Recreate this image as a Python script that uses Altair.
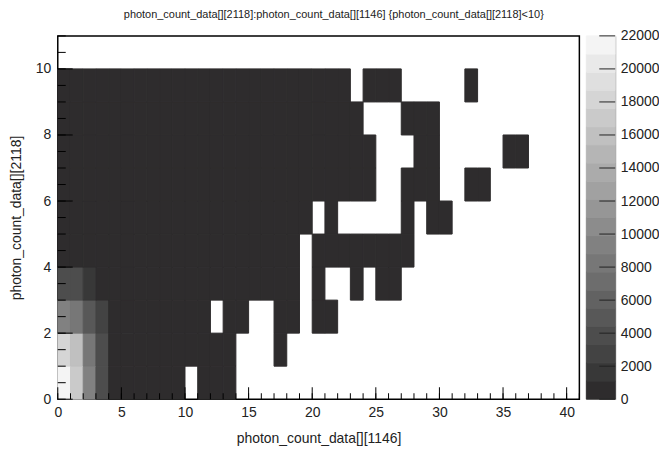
import altair as alt
import pandas as pd

# ---------------- data (bin contents, one list per y bin, x bins 0..40) ----------------
counts_y0 = [21950, 17300, 8900, 3500, 900, 610, 400, 250, 140, 75, 0, 28, 12, 5]
counts_y1 = [18200, 15800, 8700, 3400, 880, 590, 390, 245, 150, 85, 48, 26, 13, 6, 0, 0, 0, 1]
counts_y2 = [8900, 8700, 4800, 2500, 760, 520, 350, 220, 130, 70, 38, 20, 0, 8, 4, 0, 0, 1, 2, 0, 1, 1]
counts_y3 = [3600, 3500, 1600, 1050, 620, 430, 290, 180, 110, 62, 35, 19, 10, 6, 4, 3, 2, 2, 1, 0, 1, 0, 0, 1, 0, 1, 1]
counts_y4 = [1000, 980, 820, 640, 470, 330, 230, 150, 95, 55, 32, 18, 11, 7, 5, 3, 2, 2, 1, 0, 2, 1, 1, 1, 1, 1, 1, 1]
counts_y5 = [760, 740, 620, 500, 370, 270, 190, 125, 80, 48, 29, 17, 10, 7, 5, 3, 2, 2, 1, 1, 0, 1, 0, 0, 0, 0, 0, 1, 0, 1, 1]
counts_y6 = [560, 540, 460, 370, 280, 205, 145, 98, 64, 40, 25, 15, 9, 6, 4, 3, 2, 2, 1, 1, 1, 1, 1, 1, 1, 0, 0, 1, 1, 1, 0, 0, 1, 1]
counts_y7 = [400, 390, 330, 270, 205, 152, 108, 74, 49, 31, 20, 12, 8, 5, 4, 3, 2, 1, 1, 1, 1, 1, 1, 1, 1, 0, 0, 0, 1, 1, 0, 0, 0, 0, 0, 1, 1]
counts_y8 = [290, 280, 240, 196, 150, 112, 80, 55, 37, 24, 15, 10, 6, 4, 3, 2, 2, 1, 1, 1, 1, 1, 1, 1, 0, 0, 0, 1, 1, 1]
counts_y9 = [210, 204, 175, 143, 110, 82, 59, 41, 28, 18, 12, 8, 5, 4, 3, 2, 2, 1, 1, 1, 1, 1, 1, 0, 1, 1, 1, 0, 0, 0, 0, 0, 1]

rows = [counts_y0, counts_y1, counts_y2, counts_y3, counts_y4,
        counts_y5, counts_y6, counts_y7, counts_y8, counts_y9]

# colour palette (20 contour levels, 0 .. 22000)
z_levels = [0, 1100, 2200, 3300, 4400, 5500, 6600, 7700, 8800, 9900, 11000,
            12100, 13200, 14300, 15400, 16500, 17600, 18700, 19800, 20900, 22000]
greys = ["#2e2c2d", "#383838", "#434343", "#4d4d4d", "#585858", "#626262", "#6d6d6d",
         "#777777", "#818181", "#8c8c8c", "#969696", "#a1a1a1", "#ababab", "#b5b5b5",
         "#c0c0c0", "#cacaca", "#d5d5d5", "#dfdfdf", "#e9e9e9", "#f4f4f4"]

x_major = [0, 5, 10, 15, 20, 25, 30, 35, 40]
x_minor = list(range(0, 42))
y_major = [0, 2, 4, 6, 8, 10]
y_minor = [v / 2 for v in range(0, 23)]
z_ticks = [0, 2000, 4000, 6000, 8000, 10000, 12000, 14000, 16000, 18000, 20000, 22000]

title_text = "photon_count_data[][2118]:photon_count_data[][1146] {photon_count_data[][2118]<10}"
x_title = "photon_count_data[][1146]"
y_title = "photon_count_data[][2118]"

# ---------------- tables ----------------
recs = []
for yb, row in enumerate(rows):
    for xb, c in enumerate(row):
        if c > 0:
            recs.append({"x0": xb, "x1": xb + 1, "y0": yb, "y1": yb + 1, "count": c})
cells = pd.DataFrame(recs)

bands = pd.DataFrame({"lo": z_levels[:-1], "hi": z_levels[1:]})
bands["mid"] = (bands["lo"] + bands["hi"]) / 2

FONT = "Liberation Sans"
W, H = 524, 365
BAR_W = 29

color_scale = alt.Scale(type="threshold", domain=z_levels[1:-1], range=greys)
xs = alt.Scale(domain=[0, 41], nice=False, zero=False)
ys = alt.Scale(domain=[0, 11], nice=False, zero=False)

x_axis = alt.Axis(
    values=x_major, ticks=False, domain=False, grid=False, labelFlush=False,
    labelFontSize=14, labelFont=FONT, labelColor="#222", labelPadding=6,
    title=x_title, titleFont=FONT, titleFontSize=14, titleFontWeight="normal",
    titleColor="#222", titlePadding=12)
y_axis = alt.Axis(
    values=y_major, ticks=False, domain=False, grid=False, labelFlush=False,
    labelFontSize=14, labelFont=FONT, labelColor="#222", labelPadding=7,
    title=y_title, titleFont=FONT, titleFontSize=14, titleFontWeight="normal",
    titleColor="#222", titlePadding=12)

heat = alt.Chart(cells).mark_rect(strokeWidth=1).encode(
    x=alt.X("x0:Q", scale=xs, axis=x_axis),
    x2="x1:Q",
    y=alt.Y("y0:Q", scale=ys, axis=y_axis),
    y2="y1:Q",
    color=alt.Color("count:Q", scale=color_scale, legend=None),
    stroke=alt.Stroke("count:Q", scale=color_scale, legend=None),
)

xmaj = alt.Chart(pd.DataFrame({"v": x_major})).mark_rule(color="black", strokeWidth=1).encode(
    x=alt.X("v:Q", scale=xs, axis=x_axis), y=alt.value(H), y2=alt.value(H - 12))
xmin = alt.Chart(pd.DataFrame({"v": x_minor})).mark_rule(color="black", strokeWidth=1).encode(
    x=alt.X("v:Q", scale=xs, axis=x_axis), y=alt.value(H), y2=alt.value(H - 6))
ymaj = alt.Chart(pd.DataFrame({"v": y_major})).mark_rule(color="black", strokeWidth=1).encode(
    y=alt.Y("v:Q", scale=ys, axis=y_axis), x=alt.value(0), x2=alt.value(15))
ymin = alt.Chart(pd.DataFrame({"v": y_minor})).mark_rule(color="black", strokeWidth=1).encode(
    y=alt.Y("v:Q", scale=ys, axis=y_axis), x=alt.value(0), x2=alt.value(8))

main = alt.layer(heat, xmin, xmaj, ymin, ymaj).properties(
    width=W, height=H,
    view=alt.ViewBackground(stroke="black", strokeWidth=1.5, fill="white"))

zs = alt.Scale(domain=[0, 22000], nice=False, zero=False)
z_axis = alt.Axis(
    orient="right", values=z_ticks, format="d", ticks=False, grid=False,
    domain=True, domainColor="#888", domainWidth=1,
    labelFontSize=14, labelFont=FONT, labelColor="#222", labelPadding=5,
    labelFlush=False, title="")
bar_rect = alt.Chart(bands).mark_rect(strokeWidth=1).encode(
    y=alt.Y("lo:Q", scale=zs, axis=z_axis),
    y2="hi:Q",
    x=alt.value(0), x2=alt.value(BAR_W),
    color=alt.Color("mid:Q", scale=color_scale, legend=None),
    stroke=alt.Stroke("mid:Q", scale=color_scale, legend=None),
)
bar_ticks = alt.Chart(pd.DataFrame({"v": z_ticks})).mark_rule(color="#222", strokeWidth=1).encode(
    y=alt.Y("v:Q", scale=zs, axis=z_axis), x=alt.value(13), x2=alt.value(BAR_W))
colorbar = alt.layer(bar_rect, bar_ticks).properties(
    width=BAR_W, height=H,
    view=alt.ViewBackground(strokeOpacity=0))

chart = alt.hconcat(main, colorbar, spacing=4).properties(
    title=alt.TitleParams(title_text, font=FONT, fontSize=11, fontWeight="normal",
                          color="#222", anchor="middle", offset=9),
    padding={"left": 0, "top": 0, "right": 0, "bottom": 0},
    background="white",
).resolve_scale(color="independent", stroke="independent")

chart.save("out.html", embed_options={"renderer": "svg", "actions": False})
